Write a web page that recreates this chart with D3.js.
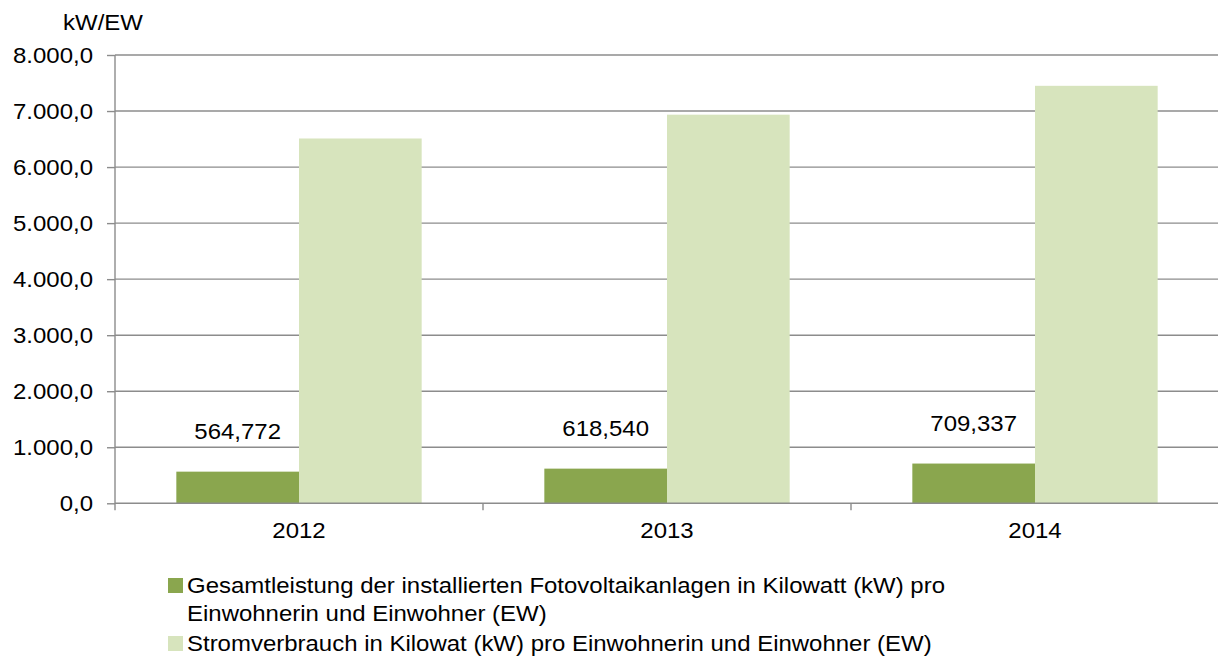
<!DOCTYPE html>
<html><head><meta charset="utf-8">
<script src="https://cdn.jsdelivr.net/npm/d3@7"></script>
<style>body{margin:0;background:#fff}svg{display:block}text{font-family:"Liberation Sans",Arial,sans-serif;fill:#000}</style>
</head><body>
<script>
const years = ["2012","2013","2014"];
const solarValues = [564.772, 618.540, 709.337];
const consumptionValues = [6510, 6935, 7450];
const solarLabels = ["564,772","618,540","709,337"];
const yTicks = [0,1000,2000,3000,4000,5000,6000,7000,8000];
const yTickLabels = ["0,0","1.000,0","2.000,0","3.000,0","4.000,0","5.000,0","6.000,0","7.000,0","8.000,0"];
const seriesNames = ["Gesamtleistung der installierten Fotovoltaikanlagen in Kilowatt (kW) pro|Einwohnerin und Einwohner (EW)","Stromverbrauch in Kilowat (kW) pro Einwohnerin und Einwohner (EW)"];
const colors = ["#8aa64e","#d7e4bd"];
const yTitle = "kW/EW";

(function(){
const W=1218,H=657;
const svg=d3.select("body").append("svg").attr("width",W).attr("height",H);
const mLeft=115,mRight=1219,mTop=55,mBottom=503.3;
const x=d3.scaleBand().domain(years).range([mLeft,mRight]).paddingInner(0).paddingOuter(0);
const y=d3.scaleLinear().domain([0,8000]).range([mBottom,mTop]);
const grey="#8c8c8c";
const fs=22;

svg.append("g").selectAll("line").data(yTicks.filter(d=>d>0)).join("line")
  .attr("x1",mLeft).attr("x2",W).attr("y1",d=>y(d)).attr("y2",d=>y(d))
  .attr("stroke",grey).attr("stroke-width",1.4);

const ya=svg.append("g").attr("transform",`translate(${mLeft},0)`)
  .call(d3.axisLeft(y).tickValues(yTicks).tickSize(8).tickPadding(14).tickFormat((d,i)=>yTickLabels[i]));
ya.selectAll("path").attr("stroke",grey).attr("stroke-width",1.4).attr("d",`M0,${mTop}V${mBottom+7}`);
ya.selectAll("line").attr("stroke",grey).attr("stroke-width",1.4);
ya.selectAll("text").attr("font-size",fs).attr("font-family","Liberation Sans, Arial, sans-serif").attr("fill","#000");

const inner=d3.scaleBand().domain([0,1]).range([0,x.bandwidth()]).paddingOuter(0.5).paddingInner(0);
const gBars=svg.append("g");
gBars.selectAll("rect.s").data(years).join("rect").attr("class","s")
  .attr("x",d=>x(d)+inner(0)).attr("width",inner.bandwidth())
  .attr("y",(d,i)=>y(solarValues[i])).attr("height",(d,i)=>mBottom-y(solarValues[i])).attr("fill",colors[0]);
gBars.selectAll("rect.c").data(years).join("rect").attr("class","c")
  .attr("x",d=>x(d)+inner(1)).attr("width",inner.bandwidth())
  .attr("y",(d,i)=>y(consumptionValues[i])).attr("height",(d,i)=>mBottom-y(consumptionValues[i])).attr("fill",colors[1]);

svg.append("g").selectAll("text").data(years).join("text")
  .attr("x",d=>x(d)+inner(0)+inner.bandwidth()/2).attr("y",(d,i)=>y(solarValues[i])-33)
  .attr("text-anchor","middle").attr("font-size",fs).text((d,i)=>solarLabels[i]);

const xa=svg.append("g").attr("transform",`translate(0,${mBottom})`)
  .call(d3.axisBottom(x).tickSize(0).tickPadding(0));
xa.select("path").remove();
xa.selectAll("text").attr("font-size",fs).attr("font-family","Liberation Sans, Arial, sans-serif").attr("fill","#000").attr("dy",null).attr("y",35);
svg.append("line").attr("x1",mLeft).attr("x2",W).attr("y1",mBottom).attr("y2",mBottom).attr("stroke",grey).attr("stroke-width",1.6);
svg.append("g").selectAll("line").data(years).join("line")
  .attr("x1",(d)=>x(d)+x.bandwidth()).attr("x2",(d)=>x(d)+x.bandwidth())
  .attr("y1",mBottom).attr("y2",mBottom+7).attr("stroke",grey).attr("stroke-width",1.4);

svg.append("text").attr("x",103).attr("y",30).attr("text-anchor","middle").attr("font-size",fs).text(yTitle);

const lg=svg.append("g");
const legY=[593,651];
seriesNames.forEach((n,i)=>{
  lg.append("rect").attr("x",168).attr("y",legY[i]-15).attr("width",15).attr("height",15).attr("fill",colors[i]);
  const t=lg.append("text").attr("x",187).attr("y",legY[i]).attr("font-size",fs);
  n.split("|").forEach((s,j)=>t.append("tspan").attr("x",187).attr("dy",j?28.5:0).text(s));
});

// horizontal stretch of glyphs to match reference rendering
const sx=1.09;
svg.selectAll("text").each(function(){
  const ax=+(this.getAttribute("x")||0);
  this.setAttribute("transform",`translate(${ax*(1-sx)},0) scale(${sx},1)`);
});
})();
</script>
</body></html>
